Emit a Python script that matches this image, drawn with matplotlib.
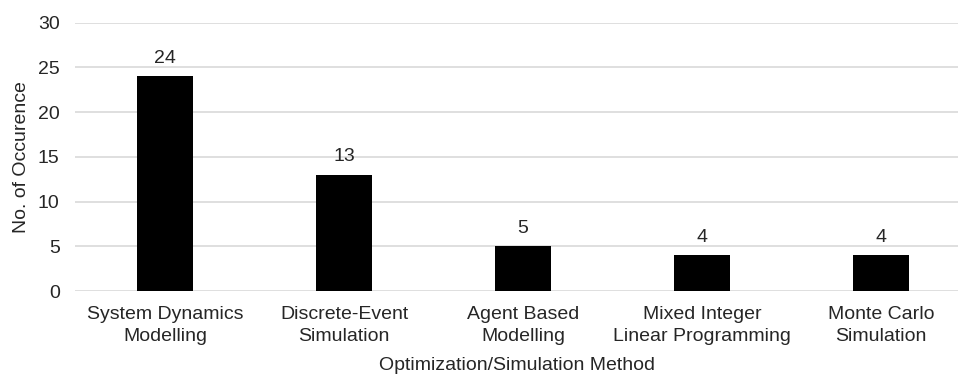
import numpy as np
import matplotlib.pyplot as plt

plt.rcParams['font.family'] = ['Liberation Sans', 'DejaVu Sans']

methods = ['System Dynamics\nModelling', 'Discrete-Event\nSimulation', 'Agent Based\nModelling',
           'Mixed Integer\nLinear Programming', 'Monte Carlo\nSimulation']
counts = [24, 13, 5, 4, 4]
yticks = [0, 5, 10, 15, 20, 25, 30]

txt = '#262626'
fs = 14

fig = plt.figure(figsize=(9.58, 3.75), dpi=100)
ax = fig.add_axes([0.0783, 0.224, 0.9217, 0.7155])

x = np.arange(len(methods))
bars = ax.bar(x, counts, width=0.313, color='black', zorder=3)
for b, v in zip(bars, counts):
    ax.annotate(str(v), (b.get_x() + b.get_width()/2, v), xytext=(0, 7), textcoords='offset points',
                ha='center', va='bottom', fontsize=fs, color=txt)

ax.set_xlim(-0.503, 4.43)
ax.set_ylim(0, 30)
ax.set_yticks(yticks)
ax.set_xticks(x)
ax.set_xticklabels(methods, fontsize=fs, color=txt, linespacing=1.35)
ax.tick_params(axis='y', labelsize=fs, labelcolor=txt, length=0, pad=11)
ax.tick_params(axis='x', length=0, pad=11)
ax.grid(axis='y', color='#d9d9d9', lw=1.2, zorder=0)
for s in ax.spines.values():
    s.set_visible(False)

ax.set_xlabel('Optimization/Simulation Method', fontsize=fs, color=txt, labelpad=9)
ax.set_ylabel('No. of Occurence', fontsize=fs, color=txt, labelpad=6)

fig.savefig('out.png', dpi=100)
